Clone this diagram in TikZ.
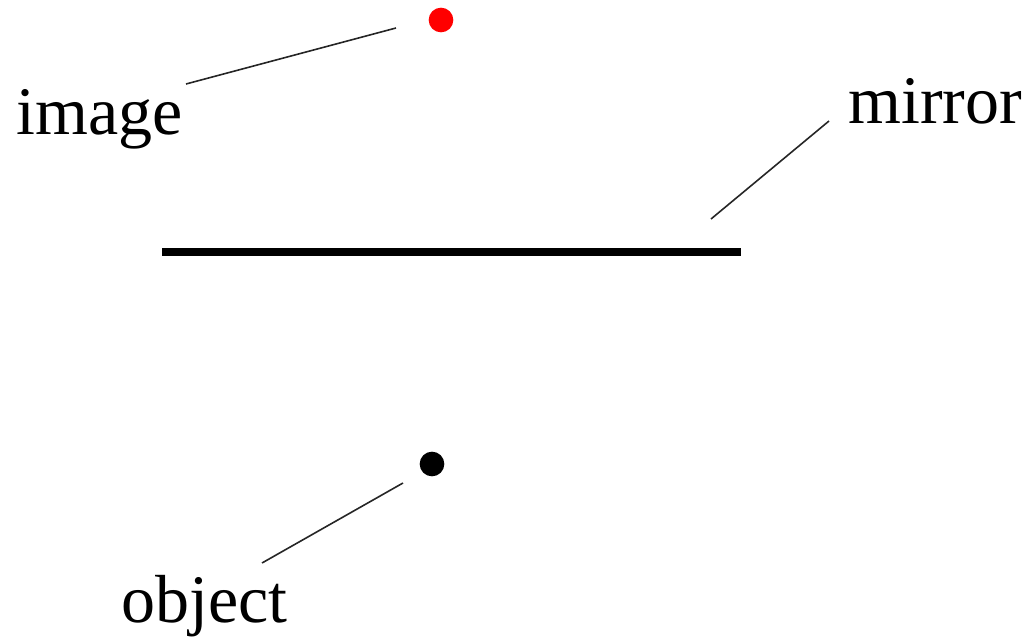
\documentclass[tikz,border=0pt]{standalone}
\usepackage{fontspec}
\setmainfont{Liberation Serif}
\begin{document}
\begin{tikzpicture}[x=0.75pt,y=-0.75pt,
  lbl/.style={anchor=base west,inner sep=0pt,font=\fontsize{51}{60}\selectfont},
  dotnode/.style={circle,inner sep=0pt,minimum size=18.5pt},
  leader/.style={line width=1.2pt,draw=black!85},
  mirrorline/.style={line width=5.5pt}]
\useasboundingbox (0,0) rectangle (1031,641);
% dots
\node[dotnode,fill=red] (image) at (441,20) {};
\node[dotnode,fill=black] (object) at (432,464) {};
% labels
\node[lbl] (imagelbl) at (16,135) {image};
\node[lbl] (mirrorlbl) at (848,124) {mirror};
\node[lbl] (objectlbl) at (121,622) {object};
% mirror
\coordinate (mL) at (162,252);
\coordinate (mR) at (741,252);
\draw[mirrorline] (mL) -- (mR);
% leader line end points
\coordinate (a1) at (186,84);
\coordinate (a2) at (396,28);
\coordinate (b1) at (711,219);
\coordinate (b2) at (829,121);
\coordinate (c1) at (262,563);
\coordinate (c2) at (403,483);
\draw[leader] (a1) -- (a2);
\draw[leader] (b1) -- (b2);
\draw[leader] (c1) -- (c2);
\end{tikzpicture}
\end{document}
